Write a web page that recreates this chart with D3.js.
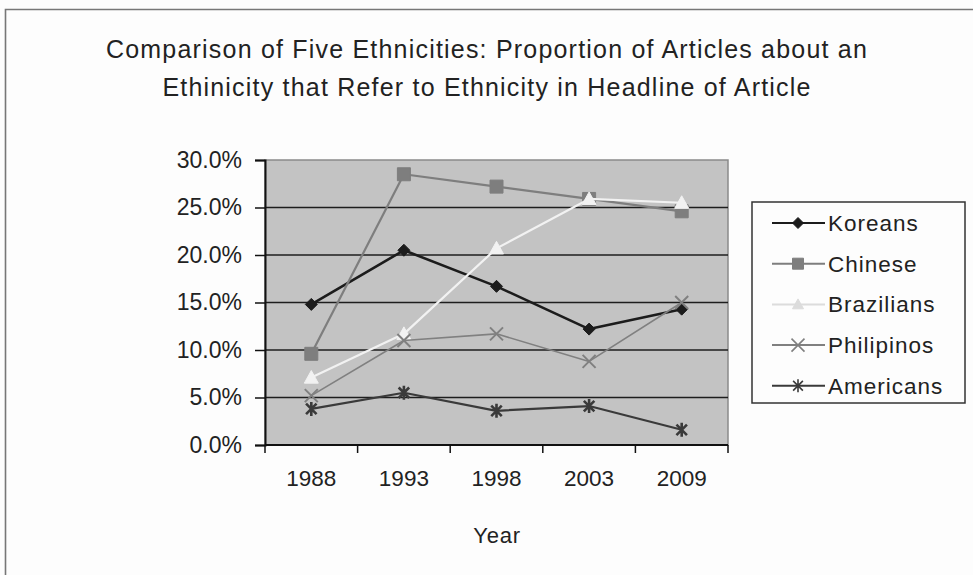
<!DOCTYPE html>
<html>
<head>
<meta charset="utf-8">
<script src="https://cdn.jsdelivr.net/npm/d3@7"></script>
<style>
  html, body { margin: 0; padding: 0; background: #fdfdfd; }
  svg { display: block; }
  text { font-family: "Liberation Sans", Arial, sans-serif; fill: #222; }
</style>
</head>
<body>
<svg id="chart" width="973" height="575"></svg>
<script>
// Survey years and share of articles with the ethnicity named in the headline
const years = ["1988", "1993", "1998", "2003", "2009"];
const seriesNames = ["Koreans", "Chinese", "Brazilians", "Philipinos", "Americans"];
const koreans    = [0.148, 0.205, 0.167, 0.122, 0.143];
const chinese    = [0.096, 0.285, 0.272, 0.259, 0.246];
const brazilians = [0.071, 0.117, 0.207, 0.259, 0.255];
const philipinos = [0.052, 0.110, 0.117, 0.088, 0.150];
const americans  = [0.038, 0.055, 0.036, 0.041, 0.016];
const yTicks = [0, 0.05, 0.10, 0.15, 0.20, 0.25, 0.30];
const titleLines = [
  "Comparison of Five Ethnicities: Proportion of Articles about an",
  "Ethinicity that Refer to Ethnicity in Headline of Article"
];
const xTitle = "Year";

const values = [koreans, chinese, brazilians, philipinos, americans];

// visual style per series: stroke colour, line width, marker kind, marker size
const styles = [
  { color: "#1c1c1c", width: 2.6, marker: "diamond", size: 12 },
  { color: "#7e7e7e", width: 2.2, marker: "square", size: 13 },
  { color: "#f2f2f2", width: 2.2, marker: "triangle", size: 14 },
  { color: "#808080", width: 1.6, marker: "x", size: 13 },
  { color: "#3a3a3a", width: 2.2, marker: "star", size: 14 }
];

const svg = d3.select("#chart");

// outer frame (top and left edges visible)
svg.append("path")
  .attr("d", "M5.5,575 V9.5 H973")
  .attr("fill", "none").attr("stroke", "#777").attr("stroke-width", 1.6);

const plot = { left: 265, right: 728, top: 160, bottom: 445 };

const x = d3.scaleBand().domain(years).range([plot.left, plot.right]).padding(0);
const y = d3.scaleLinear().domain([0, 0.30]).range([plot.bottom, plot.top]);
const cx = d => x(d) + x.bandwidth() / 2;

// plot background
svg.append("rect")
  .attr("x", plot.left).attr("y", plot.top)
  .attr("width", plot.right - plot.left).attr("height", plot.bottom - plot.top)
  .attr("fill", "#c3c3c3").attr("stroke", "#8a8a8a").attr("stroke-width", 1.5);

// horizontal gridlines
svg.append("g").selectAll("line")
  .data(yTicks.filter(t => t > 0 && t < 0.30))
  .join("line")
  .attr("x1", plot.left).attr("x2", plot.right)
  .attr("y1", d => y(d)).attr("y2", d => y(d))
  .attr("stroke", "#1e1e1e").attr("stroke-width", 1.5);

// y axis
const yAxis = svg.append("g")
  .attr("transform", `translate(${plot.left},0)`)
  .call(d3.axisLeft(y).tickValues(yTicks).tickFormat(d3.format(".1%")).tickSize(10).tickPadding(13));
yAxis.select(".domain").attr("stroke", "#111").attr("stroke-width", 2);
yAxis.selectAll(".tick line").attr("stroke", "#111").attr("stroke-width", 1.5);
yAxis.selectAll(".tick text")
  .attr("font-size", 23).attr("fill", "#222")
  .style("font-family", "'Liberation Sans', Arial, sans-serif");

// x axis: ticks at category boundaries, labels centred in each category
const xAxis = svg.append("g").attr("transform", `translate(0,${plot.bottom})`);
xAxis.append("line")
  .attr("x1", plot.left).attr("x2", plot.right)
  .attr("stroke", "#111").attr("stroke-width", 2);
const bounds = years.map(d => x(d)).concat([x(years[years.length - 1]) + x.bandwidth()]);
xAxis.selectAll("line.tk").data(bounds).join("line").attr("class", "tk")
  .attr("x1", d => d).attr("x2", d => d).attr("y1", 0).attr("y2", 8)
  .attr("stroke", "#111").attr("stroke-width", 1.5);
xAxis.selectAll("text").data(years).join("text")
  .attr("x", d => cx(d)).attr("y", 41)
  .attr("text-anchor", "middle").attr("font-size", 22.5)
  .text(d => d);

// axis title
svg.append("text")
  .attr("x", 497).attr("y", 543)
  .attr("text-anchor", "middle").attr("font-size", 22)
  .attr("letter-spacing", 0.8)
  .text(xTitle);

// chart title
svg.append("g").selectAll("text").data(titleLines).join("text")
  .attr("x", 487).attr("y", (d, i) => 58 + i * 38)
  .attr("text-anchor", "middle").attr("font-size", 25)
  .attr("letter-spacing", 1.2)
  .text(d => d);

// marker shapes
function markerPath(kind, s) {
  const h = s / 2;
  switch (kind) {
    case "diamond": return `M0,${-h}L${h},0L0,${h}L${-h},0Z`;
    case "square": return `M${-h},${-h}H${h}V${h}H${-h}Z`;
    case "triangle": return `M0,${-h}L${h},${h * 0.8}L${-h},${h * 0.8}Z`;
    case "x": return `M${-h},${-h}L${h},${h}M${h},${-h}L${-h},${h}`;
    case "star": {
      const a = h * 0.75;
      return `M${-a},${-a}L${a},${a}M${a},${-a}L${-a},${a}M0,${-h}V${h}`;
    }
  }
}
function drawMarker(sel, st, size, sw) {
  const filled = st.marker === "diamond" || st.marker === "square" || st.marker === "triangle";
  sel.append("path")
    .attr("d", markerPath(st.marker, size))
    .attr("fill", filled ? st.color : "none")
    .attr("stroke", st.color)
    .attr("stroke-width", filled ? 1 : sw);
}

const line = d3.line().x(d => cx(d.year)).y(d => y(d.v));

values.forEach((vals, i) => {
  const st = styles[i];
  const pts = years.map((yr, j) => ({ year: yr, v: vals[j] }));
  const g = svg.append("g").attr("class", "series");
  g.append("path").datum(pts)
    .attr("d", line)
    .attr("fill", "none").attr("stroke", st.color)
    .attr("stroke-width", st.width).attr("stroke-linejoin", "round");
  g.selectAll("g.pt").data(pts).join("g").attr("class", "pt")
    .attr("transform", d => `translate(${cx(d.year)},${y(d.v)})`)
    .each(function () { drawMarker(d3.select(this), st, st.size, st.marker === "star" ? 2.6 : 2); });
});

// legend
const legend = svg.append("g");
legend.append("rect")
  .attr("x", 752).attr("y", 202).attr("width", 213).attr("height", 201)
  .attr("fill", "#fdfdfd").attr("stroke", "#333").attr("stroke-width", 1.5);
seriesNames.forEach((name, i) => {
  const st = styles[i];
  const col = st.color === "#f2f2f2" ? "#dcdcdc" : st.color;
  const ly = 223 + i * 40.7;
  const row = legend.append("g").attr("transform", `translate(0,${ly})`);
  row.append("line").attr("x1", 772).attr("x2", 825)
    .attr("stroke", col).attr("stroke-width", 2);
  const mk = row.append("g").attr("transform", "translate(798,0)");
  drawMarker(mk, { color: col, marker: st.marker }, st.marker === "star" || st.marker === "x" ? 13 : 11, 1.6);
  row.append("text").attr("x", 828).attr("y", 8)
    .attr("font-size", 22.5).attr("letter-spacing", 1).attr("fill", "#333").text(name);
});
</script>
</body>
</html>
